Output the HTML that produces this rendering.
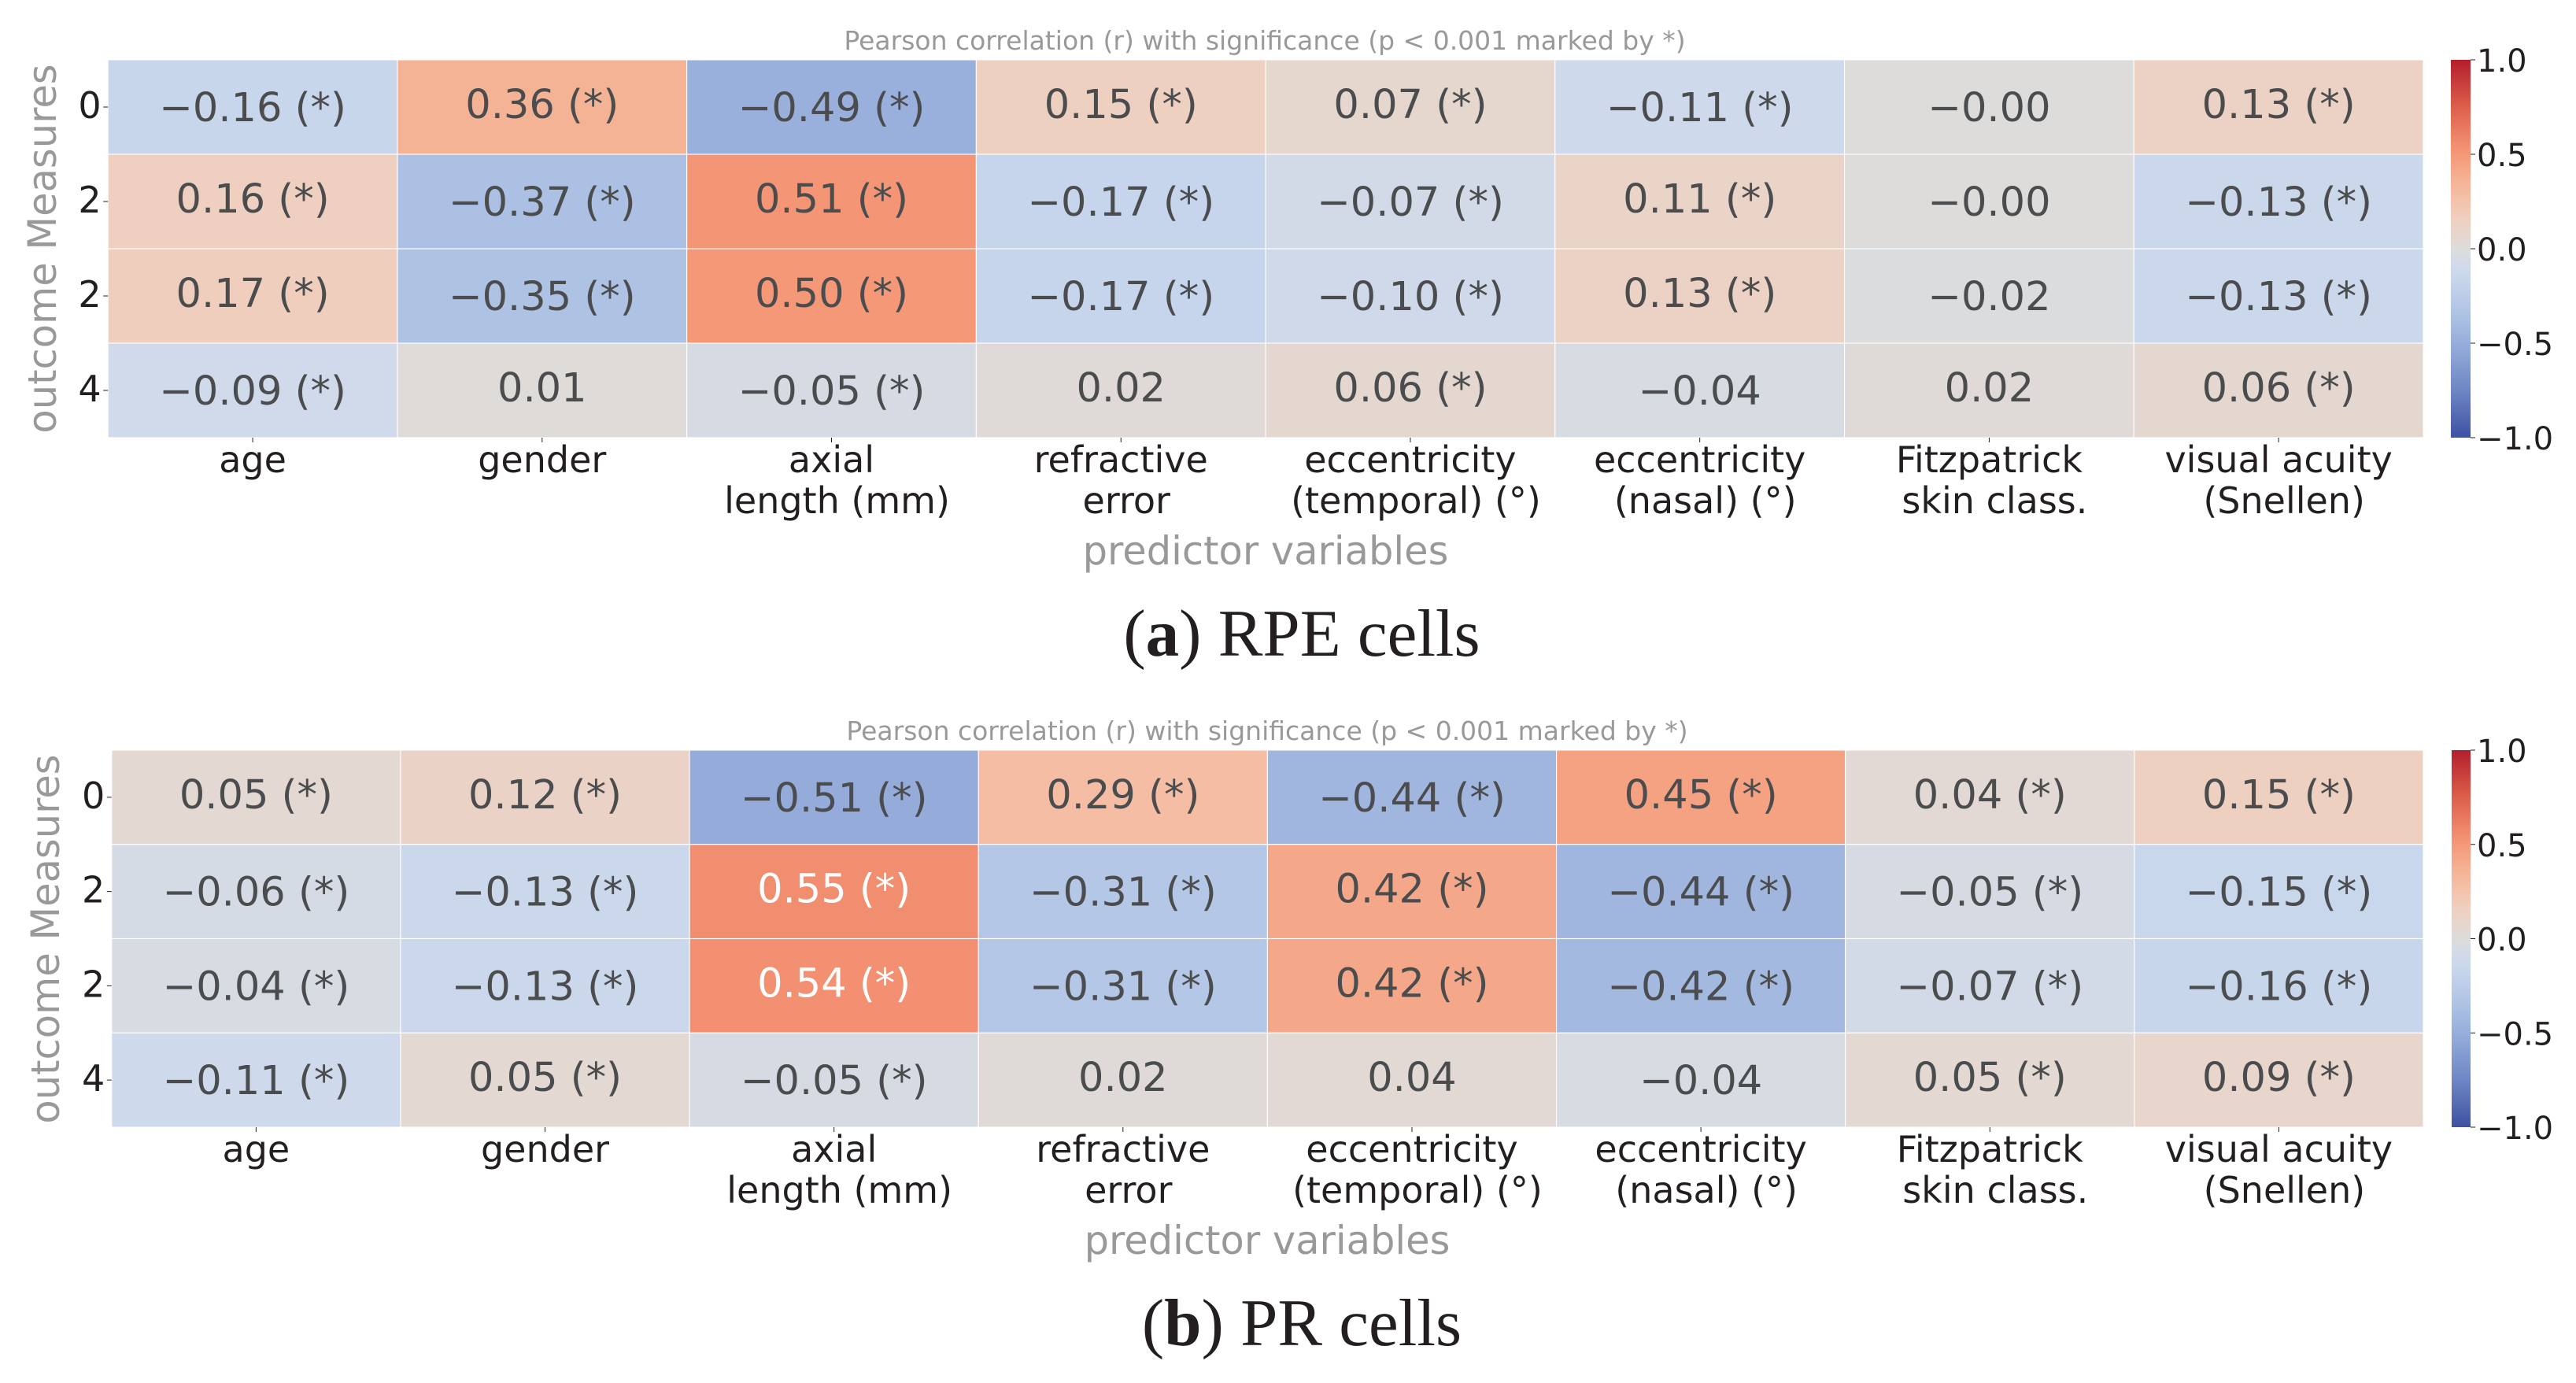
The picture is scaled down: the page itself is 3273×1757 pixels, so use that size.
<!DOCTYPE html>
<html lang="en">
<head>
<meta charset="utf-8">
<title>Pearson correlation heatmaps</title>
<style>
html,body{margin:0;padding:0;background:#fff;}
svg{display:block;}
text{font-family:"DejaVu Sans","Liberation Sans",sans-serif;}
.axis-title{fill:#98999b;font-size:49.5px;}
.plot-title{fill:#98999b;font-size:33px;}
text.caption{font-family:"Liberation Serif",serif;font-size:85px;fill:#231f20;}
.tick{fill:#231f20;font-size:46px;}
.cbar-tick{fill:#231f20;font-size:40px;}
.annot{font-size:51px;}
</style>
</head>
<body>
<svg id="fig" width="3273" height="1757" viewBox="0 0 3273 1757" xmlns="http://www.w3.org/2000/svg">
  <defs>
    <linearGradient id="cbarGradient" x1="0" y1="1" x2="0" y2="0"></linearGradient>
  </defs>
  <rect width="3273" height="1757" fill="#fff"/>

  <text class="plot-title" x="1607" y="63" text-anchor="middle">Pearson correlation (r) with significance (p &lt; 0.001 marked by *)</text>
  <text class="axis-title" transform="translate(71,316) rotate(-90)" text-anchor="middle">outcome Measures</text>
  <text class="axis-title" x="1608" y="717" text-anchor="middle">predictor variables</text>
  <text class="caption" x="1654" y="833" text-anchor="middle">(<tspan font-weight="bold">a</tspan>) RPE cells</text>

  <text class="plot-title" x="1610" y="940" text-anchor="middle">Pearson correlation (r) with significance (p &lt; 0.001 marked by *)</text>
  <text class="axis-title" transform="translate(75,1193) rotate(-90)" text-anchor="middle">outcome Measures</text>
  <text class="axis-title" x="1610" y="1593" text-anchor="middle">predictor variables</text>
  <text class="caption" x="1654" y="1709" text-anchor="middle">(<tspan font-weight="bold">b</tspan>) PR cells</text>
</svg>

<script>
const predictorLinesTop = ["age", "gender", "axial", "refractive", "eccentricity", "eccentricity", "Fitzpatrick", "visual acuity"];
const predictorLinesBottom = ["", "", "length (mm)", "error", "(temporal) (°)", "(nasal) (°)", "skin class.", "(Snellen)"];
const outcomeLabels = ["0", "2", "2", "4"];
const colorbarTicks = [1.0, 0.5, 0.0, -0.5, -1.0];

const rpeValues = [
  [-0.16, 0.36, -0.49, 0.15, 0.07, -0.11, -0.00, 0.13],
  [0.16, -0.37, 0.51, -0.17, -0.07, 0.11, -0.00, -0.13],
  [0.17, -0.35, 0.50, -0.17, -0.10, 0.13, -0.02, -0.13],
  [-0.09, 0.01, -0.05, 0.02, 0.06, -0.04, 0.02, 0.06]
];
const rpeSignificant = [
  [1, 1, 1, 1, 1, 1, 0, 1],
  [1, 1, 1, 1, 1, 1, 0, 1],
  [1, 1, 1, 1, 1, 1, 0, 1],
  [1, 0, 1, 0, 1, 0, 0, 1]
];
const prValues = [
  [0.05, 0.12, -0.51, 0.29, -0.44, 0.45, 0.04, 0.15],
  [-0.06, -0.13, 0.55, -0.31, 0.42, -0.44, -0.05, -0.15],
  [-0.04, -0.13, 0.54, -0.31, 0.42, -0.42, -0.07, -0.16],
  [-0.11, 0.05, -0.05, 0.02, 0.04, -0.04, 0.05, 0.09]
];
const prSignificant = [
  [1, 1, 1, 1, 1, 1, 1, 1],
  [1, 1, 1, 1, 1, 1, 1, 1],
  [1, 1, 1, 1, 1, 1, 1, 1],
  [1, 1, 1, 0, 0, 0, 1, 1]
];

/* colour scale sampled from the reference colourbar */
const scaleValues = [-1, -0.75, -0.5, -0.37, -0.25, -0.16, -0.09, 0, 0.1, 0.16, 0.25, 0.36, 0.5, 0.55, 0.75, 1];
const scaleColors = [
  [63, 81, 162], [110, 134, 196], [151, 174, 219], [171, 192, 226], [188, 205, 233], [200, 214, 236],
  [208, 218, 234], [221, 220, 219], [233, 212, 201], [239, 207, 191], [243, 195, 172], [245, 179, 150],
  [245, 152, 120], [242, 142, 112], [221, 95, 75], [179, 30, 44]
];

const NS = "http://www.w3.org/2000/svg";
const svg = document.getElementById("fig");

function colorFor(v) {
  const t = Math.max(-1, Math.min(1, v));
  for (let i = 0; i < scaleValues.length - 1; i++) {
    if (t <= scaleValues[i + 1]) {
      const f = (t - scaleValues[i]) / (scaleValues[i + 1] - scaleValues[i]);
      const a = scaleColors[i];
      const b = scaleColors[i + 1];
      return "rgb(" + a.map((c, k) => Math.round(c + (b[k] - c) * f)).join(",") + ")";
    }
  }
  return "rgb(179,30,44)";
}

function formatValue(v) {
  const negative = v < 0 || Object.is(v, -0);
  return (negative ? "\u2212" : "") + Math.abs(v).toFixed(2);
}

function make(tag, attrs, parent, text) {
  const el = document.createElementNS(NS, tag);
  for (const k in attrs) el.setAttribute(k, attrs[k]);
  if (text !== undefined) el.textContent = text;
  parent.appendChild(el);
  return el;
}

const gradient = document.getElementById("cbarGradient");
scaleValues.forEach((v, i) => {
  make("stop", { offset: (v + 1) / 2, "stop-color": colorFor(v) }, gradient);
});

function drawPanel(prefix, values, significant, box) {
  const xScale = (c) => box.x0 + c * (box.x1 - box.x0) / values[0].length;
  const yScale = (r) => box.y0 + r * (box.y1 - box.y0) / values.length;
  const cbarScale = (v) => box.y0 + (1 - v) / 2 * (box.y1 - box.y0);

  const group = make("g", {}, svg);
  
  

  values.forEach((row, r) => {
    row.forEach((v, c) => {
      const cell = make("rect", {
        x: xScale(c), y: yScale(r),
        width: xScale(c + 1) - xScale(c), height: yScale(r + 1) - yScale(r),
        fill: colorFor(v), stroke: "#ffffff", "stroke-width": 1.1
      }, group);
      
      
    });
  });

  values.forEach((row, r) => {
    row.forEach((v, c) => {
      const negative = v < 0 || Object.is(v, -0);
      const label = formatValue(v) + (significant[r][c] ? " (*)" : "");
      const cy = (yScale(r) + yScale(r + 1)) / 2;
      const annot = make("text", {
        class: "annot",
        x: (xScale(c) + xScale(c + 1)) / 2,
        y: cy + (negative ? 18 : 14),
        "text-anchor": "middle",
        fill: v >= 0.53 ? "#ffffff" : "#4b4c4e"
      }, group, label);
      
      
    });
  });

  outcomeLabels.forEach((lab, r) => {
    const cy = (yScale(r) + yScale(r + 1)) / 2;
    const tick = make("line", { x1: box.x0 - 6, x2: box.x0, y1: cy, y2: cy, stroke: "#231f20", "stroke-width": 1 }, group);
    
    
    const t = make("text", { class: "tick", x: box.x0 - 8.5, y: cy + 14, "text-anchor": "end" }, group, lab);
    
    
  });

  predictorLinesTop.forEach((lab, c) => {
    const cx = (xScale(c) + xScale(c + 1)) / 2;
    const tick = make("line", { x1: cx, x2: cx, y1: box.y1, y2: box.y1 + 6, stroke: "#231f20", "stroke-width": 1 }, group);
    
    
    const t1 = make("text", { class: "tick", x: cx, y: box.y1 + 44, "text-anchor": "middle" }, group, lab);
    
    
    if (predictorLinesBottom[c]) {
      const t2 = make("text", { class: "tick", x: cx + 7, y: box.y1 + 96, "text-anchor": "middle" }, group, predictorLinesBottom[c]);
      
      
    }
  });

  const bar = make("rect", {
    x: box.cx0, y: box.y0, width: box.cx1 - box.cx0, height: box.y1 - box.y0,
    fill: "url(#cbarGradient)"
  }, group);
  
  

  colorbarTicks.forEach((v) => {
    const y = cbarScale(v);
    const tick = make("line", { x1: box.cx1, x2: box.cx1 + 6, y1: y, y2: y, stroke: "#231f20", "stroke-width": 1 }, group);
    
    
    const t = make("text", { class: "cbar-tick", x: box.cx1 + 8, y: y + 15 }, group, (v < 0 ? "\u2212" : "") + Math.abs(v).toFixed(1));
    
    
  });
}

drawPanel("rpe", rpeValues, rpeSignificant, { x0: 137.2, x1: 3079, y0: 76, y1: 556, cx0: 3114, cx1: 3139 });
drawPanel("pr", prValues, prSignificant, { x0: 141.8, x1: 3079, y0: 953, y1: 1432, cx0: 3115, cx1: 3139 });
</script>
</body>
</html>
